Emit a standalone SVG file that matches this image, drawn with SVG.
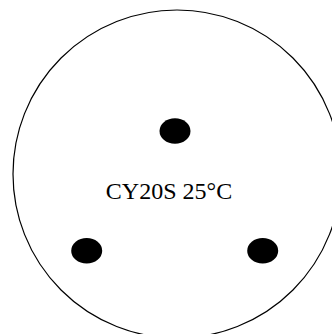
<svg xmlns="http://www.w3.org/2000/svg" width="332" height="334" viewBox="0 0 332 334">
<style>
.dot{fill:#000}
.lbl{font-family:"Liberation Serif","Times New Roman",serif;font-size:24px;fill:#000}
</style>
<rect width="332" height="334" fill="#fff"/>
<g id="plate">
<circle cx="177" cy="174" r="164" fill="none" stroke="#000" stroke-width="1.2"/>
</g>
<g id="dot-top"><ellipse class="dot" cx="175" cy="131" rx="15.5" ry="12.8"/></g>
<g id="dot-left"><ellipse class="dot" cx="86.7" cy="250.7" rx="15.5" ry="12.8"/></g>
<g id="dot-right"><ellipse class="dot" cx="262.7" cy="250.7" rx="15.5" ry="12.8"/></g>
<g id="label"><text class="lbl" x="169" y="199" text-anchor="middle">CY20S 25°C</text></g>
</svg>
